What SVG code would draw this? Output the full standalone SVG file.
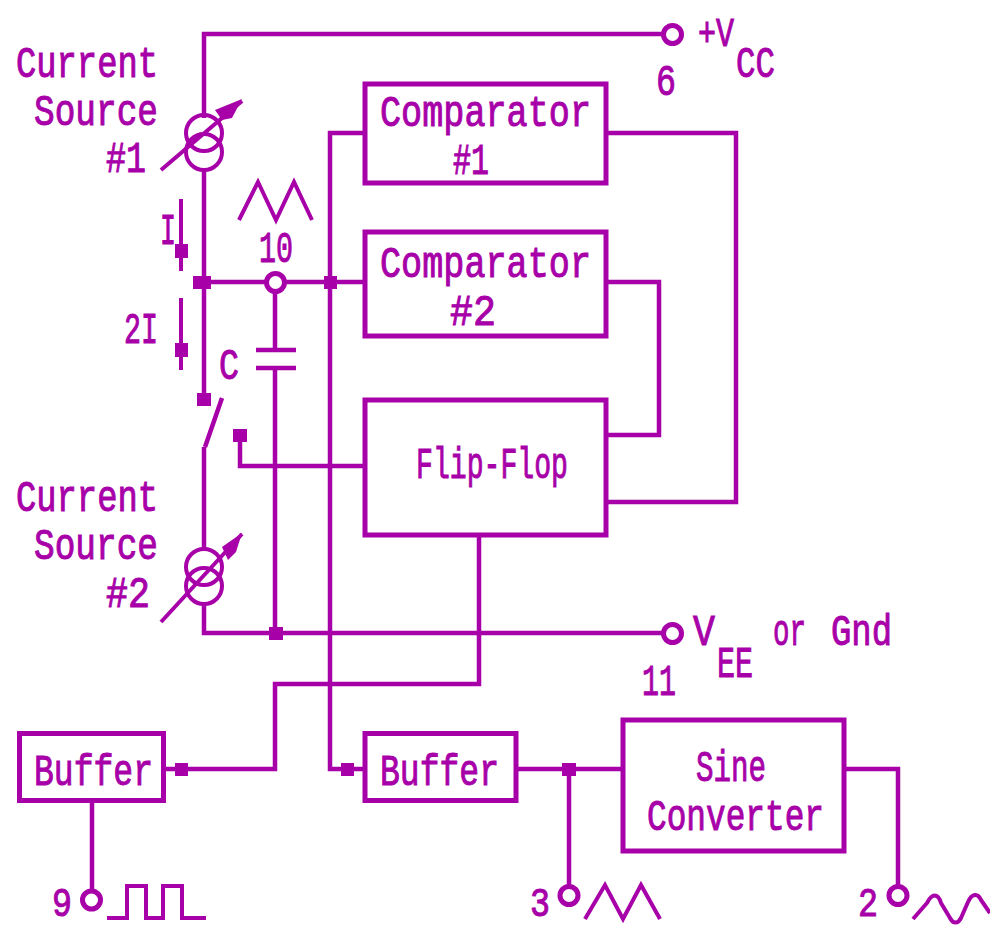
<svg xmlns="http://www.w3.org/2000/svg" width="990" height="929" viewBox="0 0 990 929">
<style>
.b{fill:#fff;stroke:#a800a8;stroke-width:5}
.w{fill:none;stroke:#a800a8;stroke-width:4.5}
.th{fill:none;stroke:#a800a8;stroke-width:4}
.f{fill:#a800a8}
.t{font-family:"Liberation Mono",monospace;font-size:44px;fill:#a800a8;stroke:#a800a8;stroke-width:1}
.d{font-size:40px}
.r{fill:#fff;stroke:#a800a8;stroke-width:5}
</style>
<rect width="990" height="929" fill="#fff"/>
<g id="connectors">
<path class="w" d="M664 34H204V118M204 170V400"/>
<path class="w" d="M365 133H330V769H365"/>
<path class="w" d="M606 133H736V502H606"/>
<path class="w" d="M606 282H659V435H606"/>
<path class="w" d="M204 282H365"/>
<path class="w" d="M275 291V350M275 368V633"/>
<path class="w" d="M256 350H296M256 368H296"/>
<path class="w" d="M222 398L205 447M204 447V550"/>
<path class="w" d="M240 435V466H365"/>
<path class="w" d="M204 604V633H664"/>
<path class="w" d="M479 535V684H275V769H164"/>
<path class="w" d="M92 801V890"/>
<path class="w" d="M516 769H623"/>
<path class="w" d="M569 769V885"/>
<path class="w" d="M846 769H898V885"/>
<rect class="f" x="193" y="276" width="18" height="13"/>
<rect class="f" x="324" y="276" width="13" height="13"/>
<rect class="f" x="197" y="393" width="14" height="13"/>
<rect class="f" x="233" y="429" width="14" height="13"/>
<rect class="f" x="269" y="627" width="14" height="13"/>
<rect class="f" x="175" y="763" width="13" height="13"/>
<rect class="f" x="341" y="763" width="13" height="13"/>
<rect class="f" x="562" y="763" width="14" height="13"/>
</g>
<g id="current-source-1">
<circle class="th" cx="204" cy="133" r="18"/>
<circle class="th" cx="204" cy="152" r="18"/>
<path class="th" d="M161 170L242 101"/>
<polygon class="f" points="215,110 242,99 232,118 222,120"/>
<text class="t" x="16" y="77" textLength="142" lengthAdjust="spacingAndGlyphs">Current</text>
<text class="t" x="34" y="125" textLength="124" lengthAdjust="spacingAndGlyphs">Source</text>
<text class="t" x="106" y="172" textLength="40" lengthAdjust="spacingAndGlyphs">#1</text>
</g>
<g id="current-source-2">
<circle class="th" cx="204" cy="567" r="18"/>
<circle class="th" cx="204" cy="586" r="18"/>
<path class="th" d="M161 622L242 534"/>
<polygon class="f" points="222,547 242,533 236,552 228,560"/>
<text class="t" x="16" y="511" textLength="142" lengthAdjust="spacingAndGlyphs">Current</text>
<text class="t" x="34" y="559" textLength="124" lengthAdjust="spacingAndGlyphs">Source</text>
<text class="t" x="106" y="607" textLength="44" lengthAdjust="spacingAndGlyphs">#2</text>
</g>
<g id="current-i">
<path class="th" d="M181 199V271"/>
<rect class="f" x="175" y="244" width="13" height="14"/>
<text class="t" x="160" y="244" textLength="16" lengthAdjust="spacingAndGlyphs">I</text>
</g>
<g id="current-2i">
<path class="th" d="M181 298V370"/>
<rect class="f" x="175" y="343" width="13" height="14"/>
<text class="t" x="124" y="343" textLength="34" lengthAdjust="spacingAndGlyphs">2I</text>
</g>
<g id="capacitor-label"><text class="t" x="219" y="379" textLength="20" lengthAdjust="spacingAndGlyphs">C</text></g>
<g id="comparator-1">
<rect class="b" x="365" y="84" width="241" height="99"/>
<text class="t" x="380" y="126" textLength="211" lengthAdjust="spacingAndGlyphs">Comparator</text>
<text class="t" x="453" y="174" textLength="36" lengthAdjust="spacingAndGlyphs">#1</text>
</g>
<g id="comparator-2">
<rect class="b" x="365" y="232" width="241" height="104"/>
<text class="t" x="380" y="277" textLength="211" lengthAdjust="spacingAndGlyphs">Comparator</text>
<text class="t" x="450" y="325" textLength="46" lengthAdjust="spacingAndGlyphs">#2</text>
</g>
<g id="flip-flop">
<rect class="b" x="365" y="400" width="241" height="135"/>
<text class="t" x="416" y="478" textLength="152" lengthAdjust="spacingAndGlyphs">Flip-Flop</text>
</g>
<g id="buffer-1">
<rect class="b" x="19.500" y="733.500" width="144" height="67"/>
<text class="t" x="34" y="785" textLength="119" lengthAdjust="spacingAndGlyphs">Buffer</text>
</g>
<g id="buffer-2">
<rect class="b" x="365" y="733.500" width="151" height="67"/>
<text class="t" x="380" y="785" textLength="119" lengthAdjust="spacingAndGlyphs">Buffer</text>
</g>
<g id="sine-converter">
<rect class="b" x="623" y="720" width="221" height="131"/>
<text class="t" x="696" y="781" textLength="70" lengthAdjust="spacingAndGlyphs">Sine</text>
<text class="t" x="647" y="830" textLength="177" lengthAdjust="spacingAndGlyphs">Converter</text>
</g>
<g id="terminal-6">
<circle class="r" cx="672.500" cy="34.500" r="9"/>
<text class="t" x="656" y="95" textLength="20" lengthAdjust="spacingAndGlyphs">6</text>
<text class="t d" x="698" y="46" textLength="36" lengthAdjust="spacingAndGlyphs">+V</text>
<text class="t" x="736" y="77" textLength="39" lengthAdjust="spacingAndGlyphs">CC</text>
</g>
<g id="terminal-10">
<circle class="r" cx="275.500" cy="282.500" r="9"/>
<text class="t" x="259" y="262" textLength="34" lengthAdjust="spacingAndGlyphs">10</text>
<path class="th" d="M239 220L258 182L276 220L294 182L312 220"/>
</g>
<g id="terminal-11">
<circle class="r" cx="672.500" cy="633.500" r="9"/>
<text class="t" x="642" y="695" textLength="34" lengthAdjust="spacingAndGlyphs">11</text>
<text class="t" x="693" y="645" textLength="22" lengthAdjust="spacingAndGlyphs">V</text>
<text class="t" x="717" y="677" textLength="36" lengthAdjust="spacingAndGlyphs">EE</text>
<text class="t" x="773" y="645" textLength="33" lengthAdjust="spacingAndGlyphs">or</text>
<text class="t" x="831" y="645" textLength="61" lengthAdjust="spacingAndGlyphs">Gnd</text>
</g>
<g id="terminal-9">
<circle class="r" cx="91.500" cy="900" r="9"/>
<text class="t d" x="52" y="916" textLength="20" lengthAdjust="spacingAndGlyphs">9</text>
<path class="th" d="M107 918H127V886H146V918H163V886H182V918H206"/>
</g>
<g id="terminal-3">
<circle class="r" cx="569" cy="895.500" r="9"/>
<text class="t d" x="530" y="916" textLength="20" lengthAdjust="spacingAndGlyphs">3</text>
<path class="th" d="M585 919L605 885L623 919L641 885L660 919"/>
</g>
<g id="terminal-2">
<circle class="r" cx="898" cy="895.500" r="9"/>
<text class="t d" x="858" y="916" textLength="20" lengthAdjust="spacingAndGlyphs">2</text>
<path class="th" d="M913 919L927 903C932 893 938 893 941 903L950 918C953 924 958 924 961 918L968 902C972 893 978 893 981 900L990 913"/>
</g>
</svg>
